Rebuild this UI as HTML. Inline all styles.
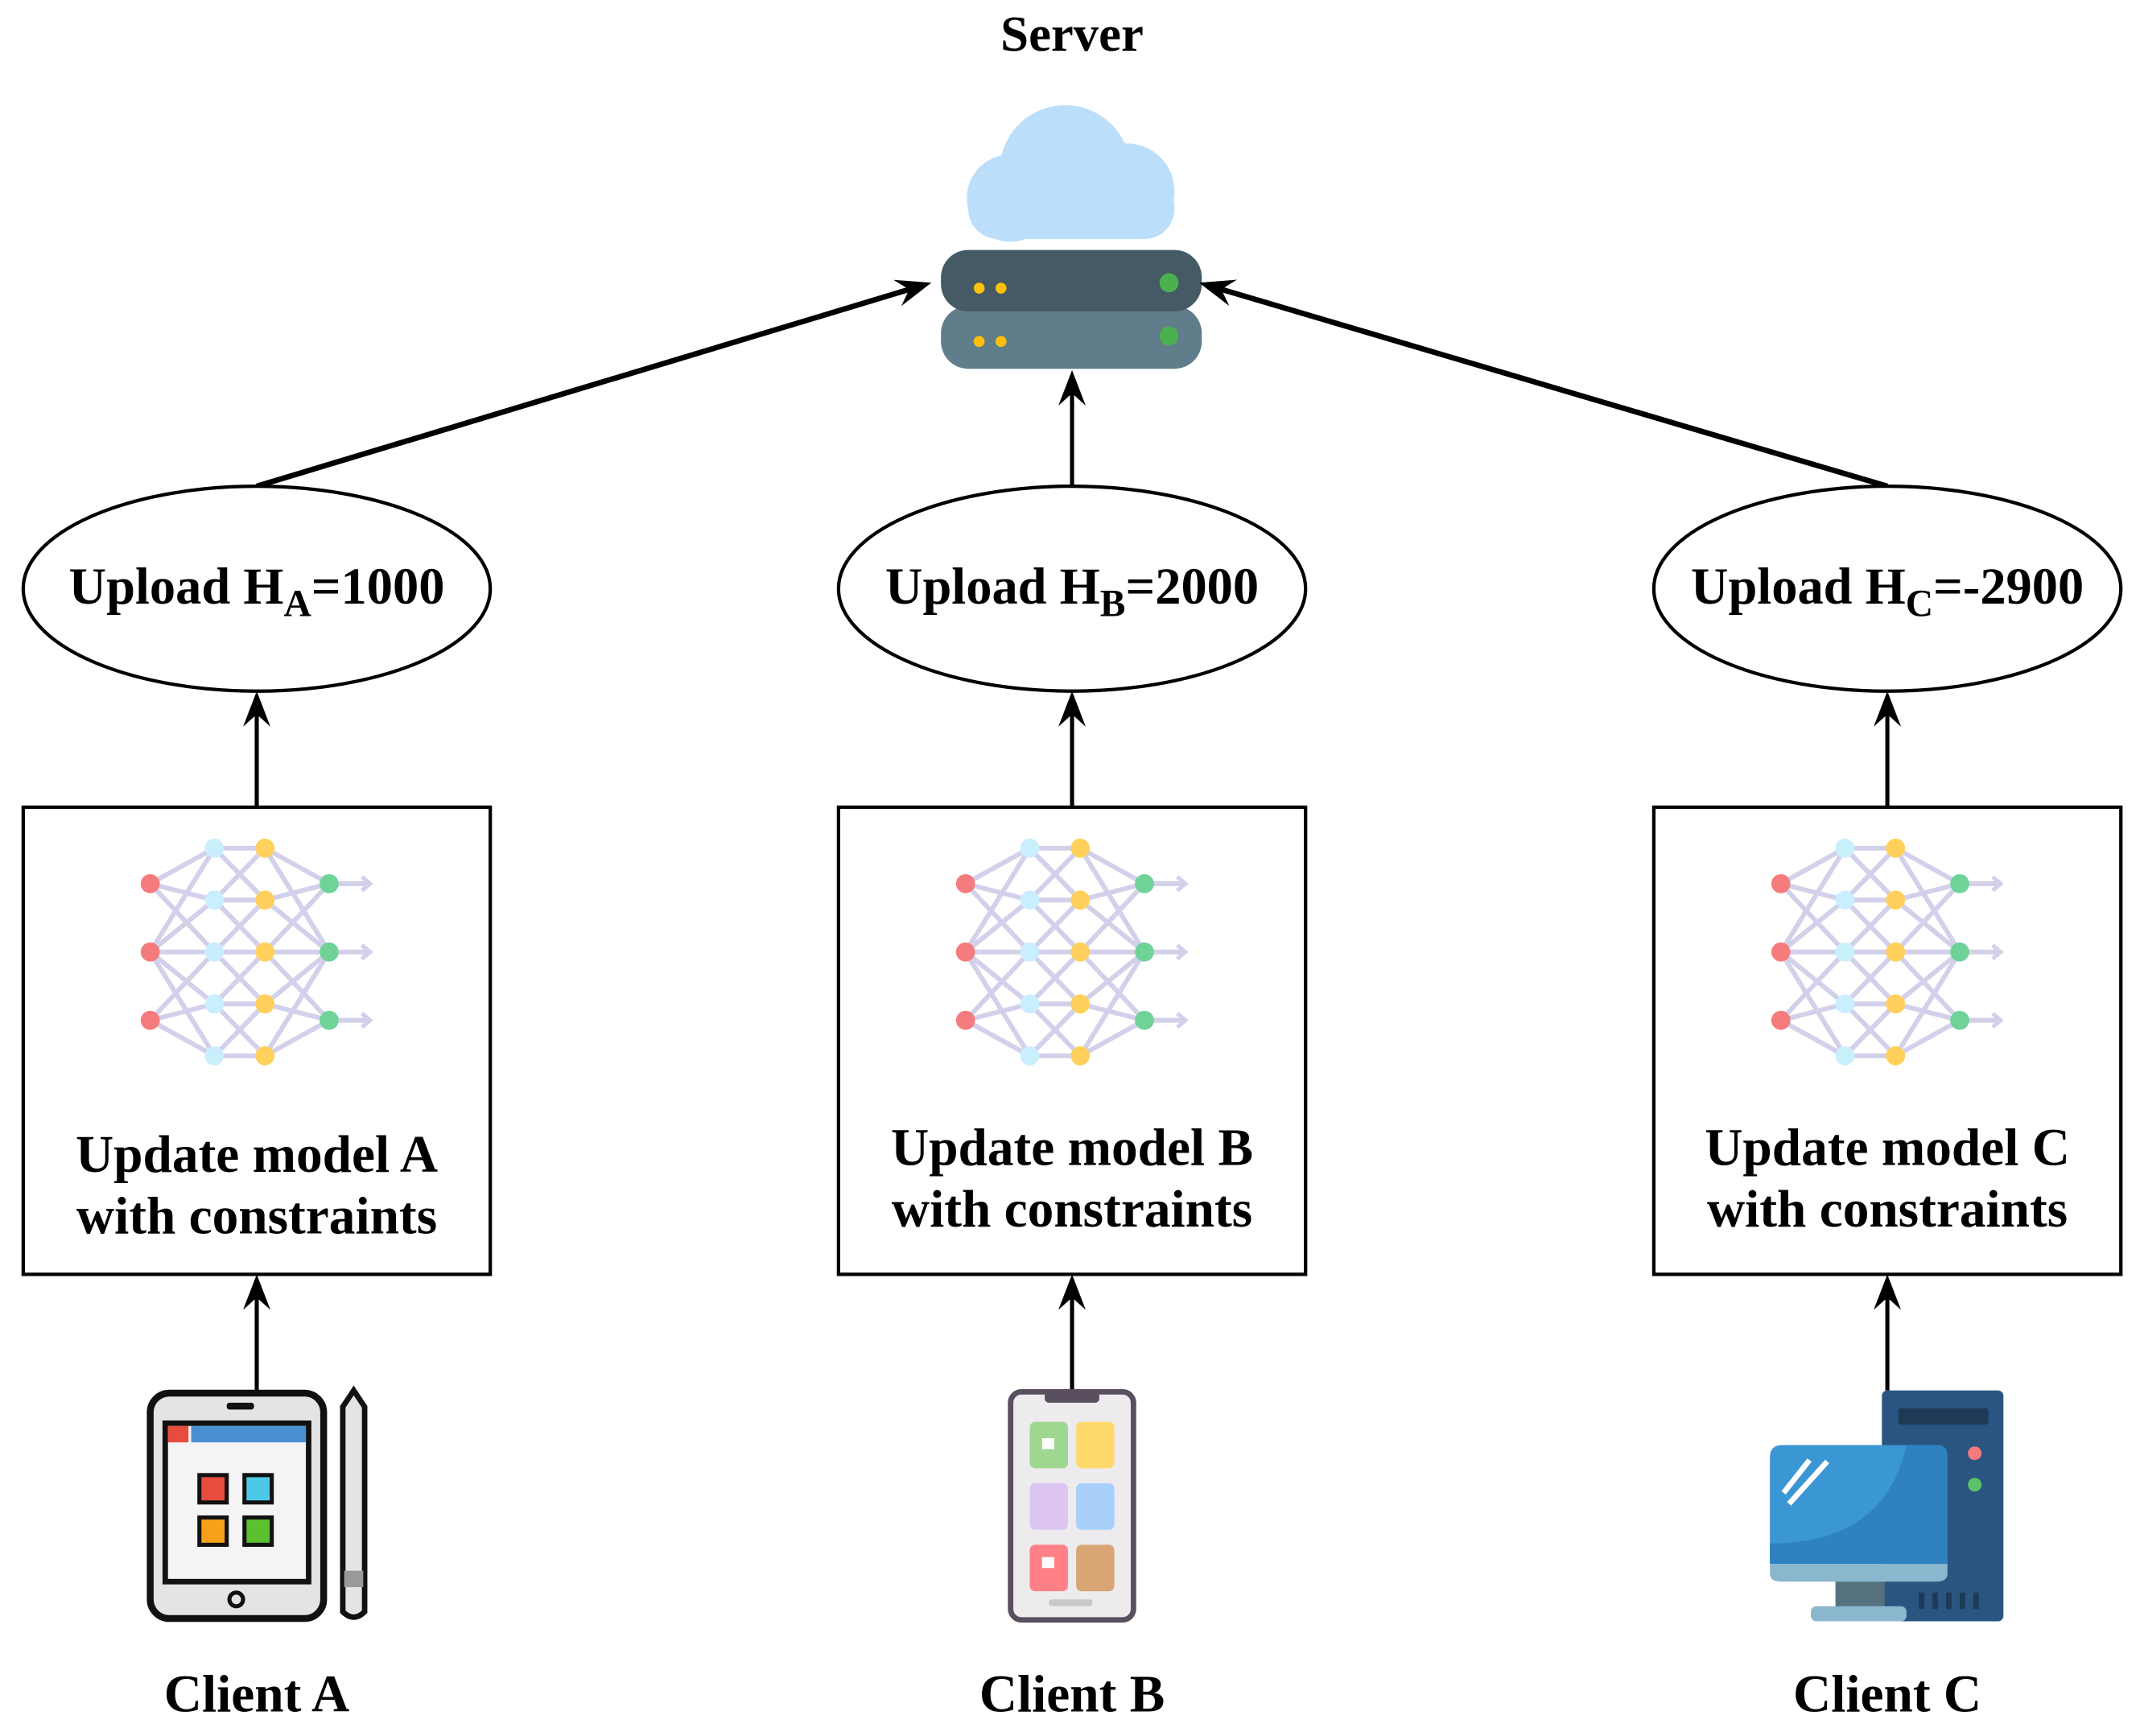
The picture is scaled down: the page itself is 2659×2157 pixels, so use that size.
<!DOCTYPE html>
<html><head><meta charset="utf-8"><style>
html,body{margin:0;padding:0;background:#fff;}
svg{display:block;}
text{font-family:"Liberation Serif",serif;font-weight:bold;fill:#000;}
</style></head><body>
<svg id="s" width="2659" height="2157" viewBox="0 0 1567 1271" preserveAspectRatio="none" xmlns="http://www.w3.org/2000/svg">
<text x="785" y="37" font-size="37" text-anchor="middle">Server</text>
<g fill="#BBDEFB">
<circle cx="780" cy="125" r="48"/>
<circle cx="825" cy="140" r="35"/>
<circle cx="740" cy="145" r="32"/>
<rect x="709" y="130" width="151" height="45" rx="22"/>
</g>
<rect x="689" y="224" width="191" height="46" rx="20" fill="#607D8B"/>
<rect x="689" y="183" width="191" height="45" rx="20" fill="#455A64"/>
<circle cx="717" cy="211" r="4" fill="#FFC107"/><circle cx="733" cy="211" r="4" fill="#FFC107"/>
<circle cx="856" cy="207" r="7" fill="#4CAF50"/>
<circle cx="717" cy="250" r="4" fill="#FFC107"/><circle cx="733" cy="250" r="4" fill="#FFC107"/>
<circle cx="856" cy="246" r="7" fill="#4CAF50"/>
<g id="lines" stroke="#000" stroke-width="4" fill="none"></g>
<g id="arrows" fill="#000"></g>
<g fill="#fff" stroke="#000" stroke-width="2.5">
<ellipse cx="188" cy="431" rx="171" ry="75"/>
<ellipse cx="785" cy="431" rx="171" ry="75"/>
<ellipse cx="1382" cy="431" rx="171" ry="75"/>
<rect x="17" y="591" width="342" height="342"/>
<rect x="614" y="591" width="342" height="342"/>
<rect x="1211" y="591" width="342" height="342"/>
</g>
<text x="188" y="442" font-size="38" text-anchor="middle">Upload H<tspan font-size="28" dy="9">A</tspan><tspan dy="-9">=1000</tspan></text>
<text x="785" y="442" font-size="38" text-anchor="middle">Upload H<tspan font-size="28" dy="9">B</tspan><tspan dy="-9">=2000</tspan></text>
<text x="1382" y="442" font-size="38" text-anchor="middle">Upload H<tspan font-size="28" dy="9">C</tspan><tspan dy="-9">=-2900</tspan></text>
<g font-size="38.5" text-anchor="middle">
<text x="188" y="858">Update model A</text><text x="188" y="903">with constraints</text>
<text x="785" y="853">Update model B</text><text x="785" y="898">with constraints</text>
<text x="1382" y="853">Update model C</text><text x="1382" y="898">with constraints</text>
<text x="188" y="1253">Client A</text><text x="785" y="1253">Client B</text><text x="1382" y="1253">Client C</text>
</g>
<g id="nn"></g>
<rect x="110" y="1020" width="127" height="165" rx="14" fill="#E4E4E4" stroke="#111" stroke-width="5"/>
<rect x="121" y="1042" width="105" height="116" fill="#F4F4F4" stroke="#111" stroke-width="4"/>
<rect x="123" y="1044" width="15" height="12" fill="#E74C3C"/><rect x="140" y="1044" width="84" height="12" fill="#4A90D0"/>
<rect x="166" y="1027" width="20" height="5" rx="2" fill="#111"/>
<circle cx="173" cy="1171" r="5" fill="none" stroke="#111" stroke-width="3"/>
<rect x="146" y="1080" width="20" height="20" fill="#E74C3C" stroke="#111" stroke-width="3"/>
<rect x="179" y="1080" width="20" height="20" fill="#4DC9E8" stroke="#111" stroke-width="3"/>
<rect x="146" y="1111" width="20" height="20" fill="#F7A11A" stroke="#111" stroke-width="3"/>
<rect x="179" y="1111" width="20" height="20" fill="#5CC02F" stroke="#111" stroke-width="3"/>
<path d="M251 1030 L259 1018 L267 1030 L267 1180 Q259 1188 251 1180 Z" fill="#E4E4E4" stroke="#111" stroke-width="4"/>
<rect x="252" y="1150" width="14" height="12" fill="#999"/>
<rect x="740" y="1019" width="90" height="167" rx="8" fill="#EDEBEE" stroke="#5A4F5E" stroke-width="4"/>
<rect x="765" y="1019" width="40" height="8" rx="3" fill="#5A4F5E"/>
<rect x="754" y="1041" width="28" height="34" rx="4" fill="#9ED78F"/><rect x="788" y="1041" width="28" height="34" rx="4" fill="#FFD96B"/>
<rect x="754" y="1086" width="28" height="34" rx="4" fill="#DCC5F3"/><rect x="788" y="1086" width="28" height="34" rx="4" fill="#A8D0FA"/>
<rect x="754" y="1131" width="28" height="34" rx="4" fill="#FF8087"/><rect x="788" y="1131" width="28" height="34" rx="4" fill="#D9A575"/>
<rect x="763" y="1053" width="9" height="8" fill="#fff"/><rect x="763" y="1140" width="9" height="8" fill="#fff"/>
<rect x="768" y="1171" width="32" height="5" rx="2" fill="#C8C8C8"/>
<rect x="1378" y="1018" width="89" height="169" rx="4" fill="#2A5580"/>
<rect x="1390" y="1031" width="66" height="12" rx="2" fill="#1E3A56"/>
<circle cx="1446" cy="1064" r="5" fill="#F47C7C"/><circle cx="1446" cy="1087" r="5" fill="#5CC36B"/>
<g fill="#1E3A56"><rect x="1405" y="1166" width="4" height="12"/><rect x="1415" y="1166" width="4" height="12"/><rect x="1425" y="1166" width="4" height="12"/><rect x="1435" y="1166" width="4" height="12"/><rect x="1445" y="1166" width="4" height="12"/></g>
<rect x="1344" y="1155" width="36" height="25" fill="#55717E"/>
<rect x="1326" y="1176" width="70" height="11" rx="4" fill="#8BB7CE"/>
<path d="M1305 1058 H1418 Q1426 1058 1426 1066 V1145 H1296 V1067 Q1296 1058 1305 1058 Z" fill="#3B97D3"/>
<path d="M1296 1130 Q1380 1130 1396 1058 H1418 Q1426 1058 1426 1066 V1145 H1296 Z" fill="#2E82C0"/>
<path d="M1296 1145 H1426 V1152 Q1426 1158 1418 1158 H1304 Q1296 1158 1296 1152 Z" fill="#8BB7CE"/>
<path d="M1306 1093 L1325 1069 M1310 1101 L1338 1070" stroke="#fff" stroke-width="4"/>
</svg>
<script>
const NS="http://www.w3.org/2000/svg";
function el(p,t,a){const e=document.createElementNS(NS,t);for(const k in a)e.setAttribute(k,a[k]);p.appendChild(e);return e;}
const L=document.getElementById('lines'),A=document.getElementById('arrows');
function arrow(x1,y1,x2,y2){
 const dx=x2-x1,dy=y2-y1,len=Math.hypot(dx,dy),ux=dx/len,uy=dy/len;
 const bx=x2-ux*26,by=y2-uy*26;
 el(L,'line',{x1:x1,y1:y1,x2:x2-ux*14,y2:y2-uy*14,'stroke-width':(y1==y2||x1==x2)?3:4});
 const px=-uy,py=ux;
 el(A,'path',{d:`M${x2} ${y2} L${bx+px*10} ${by+py*10} L${x2-ux*17} ${y2-uy*17} L${bx-px*10} ${by-py*10} Z`});
}
[188,785,1382].forEach(x=>{arrow(x,591,x,506);arrow(x,1018,x,933);});
arrow(188,356,682,207);arrow(785,356,785,271);arrow(1382,356,878,207);
const N=document.getElementById('nn');
[0,597,1194].forEach(o=>{
 const g=el(N,'g',{});
 const c1=[647,697,747].map(y=>[110+o,y]);
 const c2=[621,659,697,735,773].map(y=>[157+o,y]);
 const c3=[621,659,697,735,773].map(y=>[194+o,y]);
 const c4=[647,697,747].map(y=>[241+o,y]);
 const st={stroke:'#D3D0EA','stroke-width':3.5};
 function con(a,b,maxd){a.forEach(p=>b.forEach(q=>{if(Math.abs(p[1]-q[1])<=maxd)el(g,'line',Object.assign({x1:p[0],y1:p[1],x2:q[0],y2:q[1]},st));}));}
 con(c1,c2,80);con(c2,c3,40);con(c3,c4,80);
 c4.forEach(p=>{el(g,'line',Object.assign({x1:p[0],y1:p[1],x2:p[0]+30,y2:p[1]},st));el(g,'path',{d:`M${p[0]+24} ${p[1]-5} L${p[0]+30} ${p[1]} L${p[0]+24} ${p[1]+5}`,fill:'none',stroke:'#D3D0EA','stroke-width':3});});
 c1.forEach(p=>el(g,'circle',{cx:p[0],cy:p[1],r:7,fill:'#F47C7C'}));
 c2.forEach(p=>el(g,'circle',{cx:p[0],cy:p[1],r:7,fill:'#C9EEFC'}));
 c3.forEach(p=>el(g,'circle',{cx:p[0],cy:p[1],r:7,fill:'#FFD15C'}));
 c4.forEach(p=>el(g,'circle',{cx:p[0],cy:p[1],r:7,fill:'#6FD398'}));
});
</script>
</body></html>
